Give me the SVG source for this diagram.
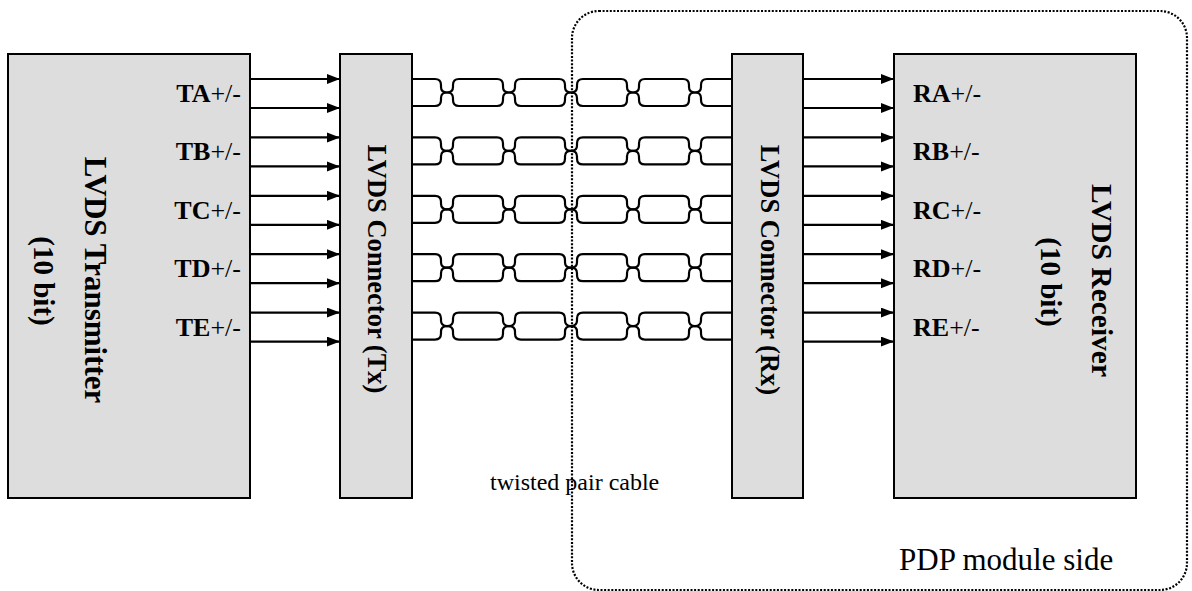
<svg xmlns="http://www.w3.org/2000/svg" xmlns:xlink="http://www.w3.org/1999/xlink" width="1192" height="591" viewBox="0 0 1192 591">
<style>
.box{fill:#dddddd;stroke:#000;stroke-width:2}
.wire{fill:none;stroke:#000;stroke-width:2.2}
.arr{fill:none;stroke:#000;stroke-width:2.2;marker-end:url(#ah)}
.lbl{font-family:"Liberation Serif","Times New Roman",serif;font-size:26px;fill:#000}
.lbl .b{font-weight:bold}
.vt{font-family:"Liberation Serif","Times New Roman",serif;font-weight:bold;fill:#000;text-anchor:middle}
.plain{font-family:"Liberation Serif","Times New Roman",serif;fill:#000}
.dot{fill:none;stroke:#000;stroke-width:2.2;stroke-dasharray:2 1.6}
</style>
<defs>
<marker id="ah" markerUnits="userSpaceOnUse" markerWidth="14" markerHeight="11" refX="13" refY="5" orient="auto">
<path d="M0,0 L13,5 L0,10 z" fill="#000"/>
</marker>
<g id="pair">
<path class="wire" d="M412,0 L435,0 Q441,0 441,6 L441,8 Q441,13.5 447,13.5 Q453,13.5 453,19 L453,21 Q453,27 459,27 L497,27 Q503,27 503,21 L503,19 Q503,13.5 509,13.5 Q515,13.5 515,8 L515,6 Q515,0 521,0 L559,0 Q565,0 565,6 L565,8 Q565,13.5 571,13.5 Q577,13.5 577,19 L577,21 Q577,27 583,27 L621,27 Q627,27 627,21 L627,19 Q627,13.5 633,13.5 Q639,13.5 639,8 L639,6 Q639,0 645,0 L683,0 Q689,0 689,6 L689,8 Q689,13.5 695,13.5 Q701,13.5 701,19 L701,21 Q701,27 707,27 L732,27"/>
<path class="wire" d="M412,27 L435,27 Q441,27 441,21 L441,19 Q441,13.5 447,13.5 Q453,13.5 453,8 L453,6 Q453,0 459,0 L497,0 Q503,0 503,6 L503,8 Q503,13.5 509,13.5 Q515,13.5 515,19 L515,21 Q515,27 521,27 L559,27 Q565,27 565,21 L565,19 Q565,13.5 571,13.5 Q577,13.5 577,8 L577,6 Q577,0 583,0 L621,0 Q627,0 627,6 L627,8 Q627,13.5 633,13.5 Q639,13.5 639,19 L639,21 Q639,27 645,27 L683,27 Q689,27 689,21 L689,19 Q689,13.5 695,13.5 Q701,13.5 701,8 L701,6 Q701,0 707,0 L732,0"/>
</g>
</defs>
<rect width="1192" height="591" fill="#fff"/>

<g id="transmitter">
<rect class="box" x="8" y="54" width="242" height="444"/>
<text class="vt" font-size="31" transform="translate(85,280) rotate(90)">LVDS Transmitter</text>
<text class="vt" font-size="29" transform="translate(34,281) rotate(90)">(10 bit)</text>
<text class="lbl" text-anchor="end" x="241" y="102"><tspan class="b">TA</tspan>+/-</text>
<text class="lbl" text-anchor="end" x="241" y="160.4"><tspan class="b">TB</tspan>+/-</text>
<text class="lbl" text-anchor="end" x="241" y="218.8"><tspan class="b">TC</tspan>+/-</text>
<text class="lbl" text-anchor="end" x="241" y="277.2"><tspan class="b">TD</tspan>+/-</text>
<text class="lbl" text-anchor="end" x="241" y="335.6"><tspan class="b">TE</tspan>+/-</text>
</g>

<g id="connector-tx">
<rect class="box" x="340" y="54" width="72" height="444"/>
<text class="vt" font-size="26.5" transform="translate(368,269) rotate(90)">LVDS Connector (Tx)</text>
</g>

<g id="connector-rx">
<rect class="box" x="732" y="54" width="71" height="444"/>
<text class="vt" font-size="26.5" transform="translate(761,270) rotate(90)">LVDS Connector (Rx)</text>
</g>

<g id="receiver">
<rect class="box" x="894" y="54" width="242" height="444"/>
<text class="vt" font-size="29.5" transform="translate(1092,280.5) rotate(90)">LVDS Receiver</text>
<text class="vt" font-size="29" transform="translate(1041,282) rotate(90)">(10 bit)</text>
<text class="lbl" x="913" y="102"><tspan class="b">RA</tspan>+/-</text>
<text class="lbl" x="913" y="160.4"><tspan class="b">RB</tspan>+/-</text>
<text class="lbl" x="913" y="218.8"><tspan class="b">RC</tspan>+/-</text>
<text class="lbl" x="913" y="277.2"><tspan class="b">RD</tspan>+/-</text>
<text class="lbl" x="913" y="335.6"><tspan class="b">RE</tspan>+/-</text>
</g>

<g id="connectors">
<path class="arr" d="M251,79 H340"/>
<path class="arr" d="M251,108 H340"/>
<path class="arr" d="M251,137.4 H340"/>
<path class="arr" d="M251,166.4 H340"/>
<path class="arr" d="M251,195.8 H340"/>
<path class="arr" d="M251,224.8 H340"/>
<path class="arr" d="M251,254.2 H340"/>
<path class="arr" d="M251,283.2 H340"/>
<path class="arr" d="M251,312.6 H340"/>
<path class="arr" d="M251,341.6 H340"/>
<path class="arr" d="M804,79 H894"/>
<path class="arr" d="M804,108 H894"/>
<path class="arr" d="M804,137.4 H894"/>
<path class="arr" d="M804,166.4 H894"/>
<path class="arr" d="M804,195.8 H894"/>
<path class="arr" d="M804,224.8 H894"/>
<path class="arr" d="M804,254.2 H894"/>
<path class="arr" d="M804,283.2 H894"/>
<path class="arr" d="M804,312.6 H894"/>
<path class="arr" d="M804,341.6 H894"/>
<use xlink:href="#pair" href="#pair" transform="translate(0,79)"/>
<use xlink:href="#pair" href="#pair" transform="translate(0,137.4)"/>
<use xlink:href="#pair" href="#pair" transform="translate(0,195.8)"/>
<use xlink:href="#pair" href="#pair" transform="translate(0,254.2)"/>
<use xlink:href="#pair" href="#pair" transform="translate(0,312.6)"/>
</g>

<g id="cable-label">
<text class="plain" font-size="24" x="490" y="490">twisted pair cable</text>
</g>

<g id="pdp-module-side">
<rect class="dot" x="572" y="11" width="615" height="579" rx="27" ry="27"/>
<text class="plain" font-size="31" x="899" y="570">PDP module side</text>
</g>
</svg>
